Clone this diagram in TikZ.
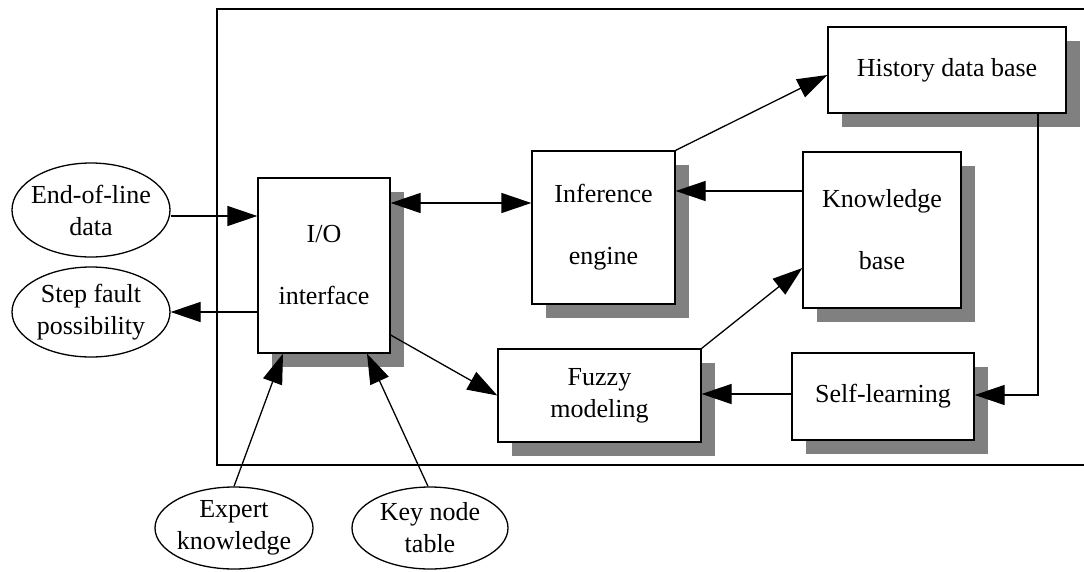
\documentclass[tikz,border=0pt]{standalone}
\usepackage{fontspec}
\setmainfont{Liberation Serif}
\usetikzlibrary{shapes.geometric,arrows.meta,shadows}
\begin{document}
\begin{tikzpicture}[x=1pt,y=-1pt,
  line width=1.3pt,
  lbl/.style={align=center,inner sep=0pt,font=\fontsize{26pt}{32pt}\selectfont},
  wide/.style={font=\fontsize{26pt}{62pt}\selectfont},
  blk/.style={draw,fill=white,rectangle,inner sep=0pt,align=center,
    font=\fontsize{26pt}{32pt}\selectfont,
    drop shadow={shadow xshift=14pt,shadow yshift=-14pt,fill=black!50,opacity=1}},
  ell/.style={draw,ellipse,inner sep=0pt,fill=white},
  arr/.style={-{Triangle[length=30pt,width=20pt]}},
  arrb/.style={{Triangle[length=30pt,width=20pt]}-{Triangle[length=30pt,width=20pt]}}
]
\useasboundingbox[fill=white] (0,0) rectangle (1084,571);
% frame
\draw (1084,9) -- (217,9) -- (217,465) -- (1084,465);
% feedback line from history (drawn before boxes)
\coordinate (hb) at (1038,113);
\coordinate (hc) at (1038,395);
% boxes
\node[blk,wide,minimum width=132pt,minimum height=175pt] (io) at (324,265.5) {I/O\\interface};
\node[blk,wide,minimum width=143pt,minimum height=153pt] (inf) at (603.5,227.5) {Inference\\engine};
\node[blk,minimum width=238pt,minimum height=86pt] (hist) at (947,70) {History data base};
\node[blk,wide,minimum width=158pt,minimum height=156pt] (kb) at (882,230) {Knowledge\\base};
\node[blk,minimum width=203pt,minimum height=93pt] (fz) at (599.5,395.5) {Fuzzy\\modeling};
\node[blk,minimum width=182pt,minimum height=87pt] (sl) at (883,396.5) {Self-learning};
% ellipses
\node[ell,minimum width=158pt,minimum height=94pt] (eol) at (91,210) {};
\node[lbl] (eolt) at (eol) {End-of-line\\data};
\node[ell,minimum width=158pt,minimum height=90pt] (sf) at (91,312) {};
\node[lbl] (sft) at (sf) {Step fault\\possibility};
\node[ell,minimum width=158pt,minimum height=82pt] (ex) at (234,528) {};
\node[lbl] (ext) at (ex) {Expert\\knowledge};
\node[ell,minimum width=156pt,minimum height=82pt] (kn) at (430,528) {};
\node[lbl] (knt) at (kn) {Key node\\table};
% connectors
\draw[arr] ([yshift=-6pt]eol.east) -- ([yshift=-6pt]eol.east -| io.west);
\draw[arr] (io.west |- sf.east) -- (sf.east);
\draw[arrb] (io.east |- 0,203) -- (inf.west |- 0,203);
\draw[arr] (kb.west |- 0,191) -- (inf.east |- 0,191);
\draw[arr] (inf.north east) -- (hist.west |- 0,75);
\draw[arr] (fz.north east) -- (kb.west |- 0,268);
\draw[arr] (io.east |- 0,335) -- (fz.west);
\draw[arr] (sl.west |- 0,394) -- (fz.east |- 0,394);
\draw[arr] (hist.south -| hb) -- (hc) -- (sl.east |- hc);
\draw[arr] (ex.north) -- (io.south -| 283,0);
\draw[arr] ([xshift=-2pt]kn.north) -- (io.south -| 367,0);
\end{tikzpicture}
\end{document}
